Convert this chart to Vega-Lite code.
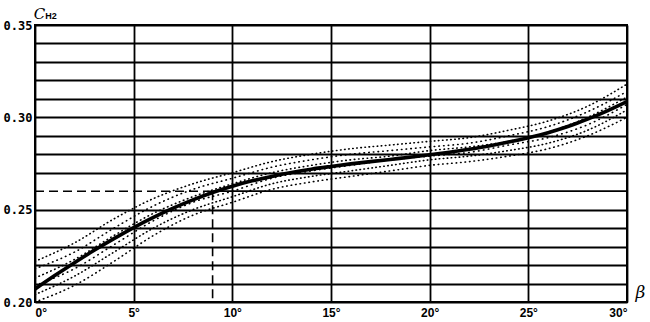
{
  "$schema": "https://vega.github.io/schema/vega-lite/v6.json",
  "width": 592,
  "height": 277,
  "autosize": "none",
  "padding": {"left": 35, "top": 25, "right": 23, "bottom": 20},
  "background": "white",
  "config": {"view": {"stroke": "black", "strokeWidth": 2}},
  "datasets": {
    "curve": [
      {"beta": 0, "c": 0.2070}, {"beta": 1, "c": 0.2143}, {"beta": 2, "c": 0.2213}, {"beta": 3, "c": 0.2280},
      {"beta": 4, "c": 0.2343}, {"beta": 5, "c": 0.2403}, {"beta": 6, "c": 0.2458}, {"beta": 7, "c": 0.2508},
      {"beta": 8, "c": 0.2553}, {"beta": 9, "c": 0.2593}, {"beta": 10, "c": 0.2627}, {"beta": 11, "c": 0.2656},
      {"beta": 12, "c": 0.2680}, {"beta": 13, "c": 0.2701}, {"beta": 14, "c": 0.2719}, {"beta": 15, "c": 0.2734},
      {"beta": 16, "c": 0.2748}, {"beta": 17, "c": 0.2760}, {"beta": 18, "c": 0.2772}, {"beta": 19, "c": 0.2784},
      {"beta": 20, "c": 0.2797}, {"beta": 21, "c": 0.2811}, {"beta": 22, "c": 0.2827}, {"beta": 23, "c": 0.2845},
      {"beta": 24, "c": 0.2866}, {"beta": 25, "c": 0.2890}, {"beta": 26, "c": 0.2917}, {"beta": 27, "c": 0.2950},
      {"beta": 28, "c": 0.2990}, {"beta": 29, "c": 0.3035}, {"beta": 30, "c": 0.3085}
    ],
    "band": [
      {"beta": 0, "s": "a", "c": 0.200}, {"beta": 0, "s": "b", "c": 0.204}, {"beta": 0, "s": "c", "c": 0.209}, {"beta": 0, "s": "d", "c": 0.213}, {"beta": 0, "s": "e", "c": 0.218}, {"beta": 0, "s": "f", "c": 0.222},
      {"beta": 2, "s": "a", "c": 0.209}, {"beta": 2, "s": "b", "c": 0.214}, {"beta": 2, "s": "c", "c": 0.218}, {"beta": 2, "s": "d", "c": 0.223}, {"beta": 2, "s": "e", "c": 0.227}, {"beta": 2, "s": "f", "c": 0.232},
      {"beta": 4, "s": "a", "c": 0.222}, {"beta": 4, "s": "b", "c": 0.227}, {"beta": 4, "s": "c", "c": 0.231}, {"beta": 4, "s": "d", "c": 0.236}, {"beta": 4, "s": "e", "c": 0.240}, {"beta": 4, "s": "f", "c": 0.245},
      {"beta": 6, "s": "a", "c": 0.236}, {"beta": 6, "s": "b", "c": 0.240}, {"beta": 6, "s": "c", "c": 0.244}, {"beta": 6, "s": "d", "c": 0.248}, {"beta": 6, "s": "e", "c": 0.252}, {"beta": 6, "s": "f", "c": 0.256},
      {"beta": 8, "s": "a", "c": 0.247}, {"beta": 8, "s": "b", "c": 0.250}, {"beta": 8, "s": "c", "c": 0.254}, {"beta": 8, "s": "d", "c": 0.257}, {"beta": 8, "s": "e", "c": 0.261}, {"beta": 8, "s": "f", "c": 0.264},
      {"beta": 10, "s": "a", "c": 0.254}, {"beta": 10, "s": "b", "c": 0.257}, {"beta": 10, "s": "c", "c": 0.260}, {"beta": 10, "s": "d", "c": 0.264}, {"beta": 10, "s": "e", "c": 0.267}, {"beta": 10, "s": "f", "c": 0.270},
      {"beta": 12, "s": "a", "c": 0.261}, {"beta": 12, "s": "b", "c": 0.264}, {"beta": 12, "s": "c", "c": 0.267}, {"beta": 12, "s": "d", "c": 0.270}, {"beta": 12, "s": "e", "c": 0.273}, {"beta": 12, "s": "f", "c": 0.276},
      {"beta": 14, "s": "a", "c": 0.265}, {"beta": 14, "s": "b", "c": 0.268}, {"beta": 14, "s": "c", "c": 0.271}, {"beta": 14, "s": "d", "c": 0.274}, {"beta": 14, "s": "e", "c": 0.277}, {"beta": 14, "s": "f", "c": 0.280},
      {"beta": 16, "s": "a", "c": 0.268}, {"beta": 16, "s": "b", "c": 0.271}, {"beta": 16, "s": "c", "c": 0.274}, {"beta": 16, "s": "d", "c": 0.277}, {"beta": 16, "s": "e", "c": 0.280}, {"beta": 16, "s": "f", "c": 0.283},
      {"beta": 18, "s": "a", "c": 0.271}, {"beta": 18, "s": "b", "c": 0.274}, {"beta": 18, "s": "c", "c": 0.277}, {"beta": 18, "s": "d", "c": 0.279}, {"beta": 18, "s": "e", "c": 0.282}, {"beta": 18, "s": "f", "c": 0.285},
      {"beta": 20, "s": "a", "c": 0.274}, {"beta": 20, "s": "b", "c": 0.277}, {"beta": 20, "s": "c", "c": 0.279}, {"beta": 20, "s": "d", "c": 0.282}, {"beta": 20, "s": "e", "c": 0.284}, {"beta": 20, "s": "f", "c": 0.287},
      {"beta": 22, "s": "a", "c": 0.276}, {"beta": 22, "s": "b", "c": 0.279}, {"beta": 22, "s": "c", "c": 0.281}, {"beta": 22, "s": "d", "c": 0.284}, {"beta": 22, "s": "e", "c": 0.286}, {"beta": 22, "s": "f", "c": 0.289},
      {"beta": 24, "s": "a", "c": 0.279}, {"beta": 24, "s": "b", "c": 0.282}, {"beta": 24, "s": "c", "c": 0.285}, {"beta": 24, "s": "d", "c": 0.287}, {"beta": 24, "s": "e", "c": 0.290}, {"beta": 24, "s": "f", "c": 0.293},
      {"beta": 26, "s": "a", "c": 0.283}, {"beta": 26, "s": "b", "c": 0.286}, {"beta": 26, "s": "c", "c": 0.289}, {"beta": 26, "s": "d", "c": 0.292}, {"beta": 26, "s": "e", "c": 0.295}, {"beta": 26, "s": "f", "c": 0.298},
      {"beta": 28, "s": "a", "c": 0.290}, {"beta": 28, "s": "b", "c": 0.293}, {"beta": 28, "s": "c", "c": 0.296}, {"beta": 28, "s": "d", "c": 0.300}, {"beta": 28, "s": "e", "c": 0.303}, {"beta": 28, "s": "f", "c": 0.306},
      {"beta": 30, "s": "a", "c": 0.300}, {"beta": 30, "s": "b", "c": 0.304}, {"beta": 30, "s": "c", "c": 0.307}, {"beta": 30, "s": "d", "c": 0.311}, {"beta": 30, "s": "e", "c": 0.314}, {"beta": 30, "s": "f", "c": 0.318}
    ],
    "guide": [
      {"beta": 0, "c": 0.26, "g": "h"}, {"beta": 9, "c": 0.26, "g": "h"},
      {"beta": 9, "c": 0.26, "g": "v"}, {"beta": 9, "c": 0.20, "g": "v"}
    ],
    "gridpart": [
      {"beta": 9, "c": 0.26}, {"beta": 30, "c": 0.26}
    ],
    "label": [{"beta": 0, "c": 0.35, "t": "H2"}]
  },
  "encoding": {
    "x": {
      "field": "beta", "type": "quantitative",
      "scale": {"domain": [0, 30], "nice": false, "zero": false},
      "axis": {
        "values": [0, 5, 10, 15, 20, 25, 30],
        "grid": true, "gridColor": "black", "gridWidth": 1.8, "gridOpacity": 1,
        "domain": false, "ticks": false,
        "labelExpr": "datum.value + '°'",
        "labelFont": "Liberation Sans", "labelFontWeight": "bold", "labelFontSize": 12, "labelColor": "black",
        "labelPadding": 5, "labelFlush": true,
        "title": "β", "titleFont": "DejaVu Serif", "titleFontStyle": "italic", "titleFontWeight": "normal",
        "titleFontSize": 17, "titleColor": "black",
        "titleX": 600, "titleY": -10, "titleAlign": "left", "titleBaseline": "middle", "titleAnchor": null
      }
    },
    "y": {
      "field": "c", "type": "quantitative",
      "scale": {"domain": [0.2, 0.35], "nice": false, "zero": false},
      "axis": {
        "values": [0.20, 0.21, 0.22, 0.23, 0.24, 0.25, 0.27, 0.28, 0.29, 0.30, 0.31, 0.32, 0.33, 0.34, 0.35],
        "grid": true, "gridColor": "black", "gridWidth": 1.8, "gridOpacity": 1,
        "domain": false, "ticks": false,
        "labelExpr": "round(datum.value * 100) % 5 == 0 ? format(datum.value, '.2f') : ''",
        "labelFont": "DejaVu Sans Mono", "labelFontWeight": "bold", "labelFontSize": 12, "labelColor": "black",
        "labelPadding": 3,
        "title": "C", "titleFont": "DejaVu Serif", "titleFontStyle": "italic", "titleFontWeight": "normal",
        "titleFontSize": 15, "titleColor": "black", "titleAngle": 0,
        "titleX": 4, "titleY": -12, "titleAlign": "center", "titleBaseline": "middle"
      }
    }
  },
  "layer": [
    {
      "data": {"name": "gridpart"},
      "mark": {"type": "line", "color": "black", "strokeWidth": 1.8},
      "encoding": {}
    },
    {
      "data": {"name": "band"},
      "mark": {"type": "line", "color": "black", "strokeWidth": 1.6, "interpolate": "monotone", "strokeCap": "round"},
      "encoding": {
        "strokeDash": {"field": "s", "type": "nominal", "legend": null,
          "scale": {"range": [[0.5, 4], [0.5, 3.5], [0.5, 4.5], [0.5, 3.8], [0.5, 4.2], [0.5, 3.6]]}}
      }
    },
    {
      "data": {"name": "guide"},
      "mark": {"type": "line", "color": "black", "strokeWidth": 1.6, "strokeDash": [9, 5]},
      "encoding": {"detail": {"field": "g", "type": "nominal"}}
    },
    {
      "data": {"name": "curve"},
      "mark": {"type": "line", "color": "black", "strokeWidth": 3.6, "interpolate": "monotone"},
      "encoding": {}
    },
    {
      "data": {"name": "label"},
      "mark": {"type": "text", "color": "black", "font": "Liberation Sans", "fontWeight": "bold", "fontSize": 9, "dx": 16, "dy": -9},
      "encoding": {"text": {"field": "t"}}
    }
  ]
}
